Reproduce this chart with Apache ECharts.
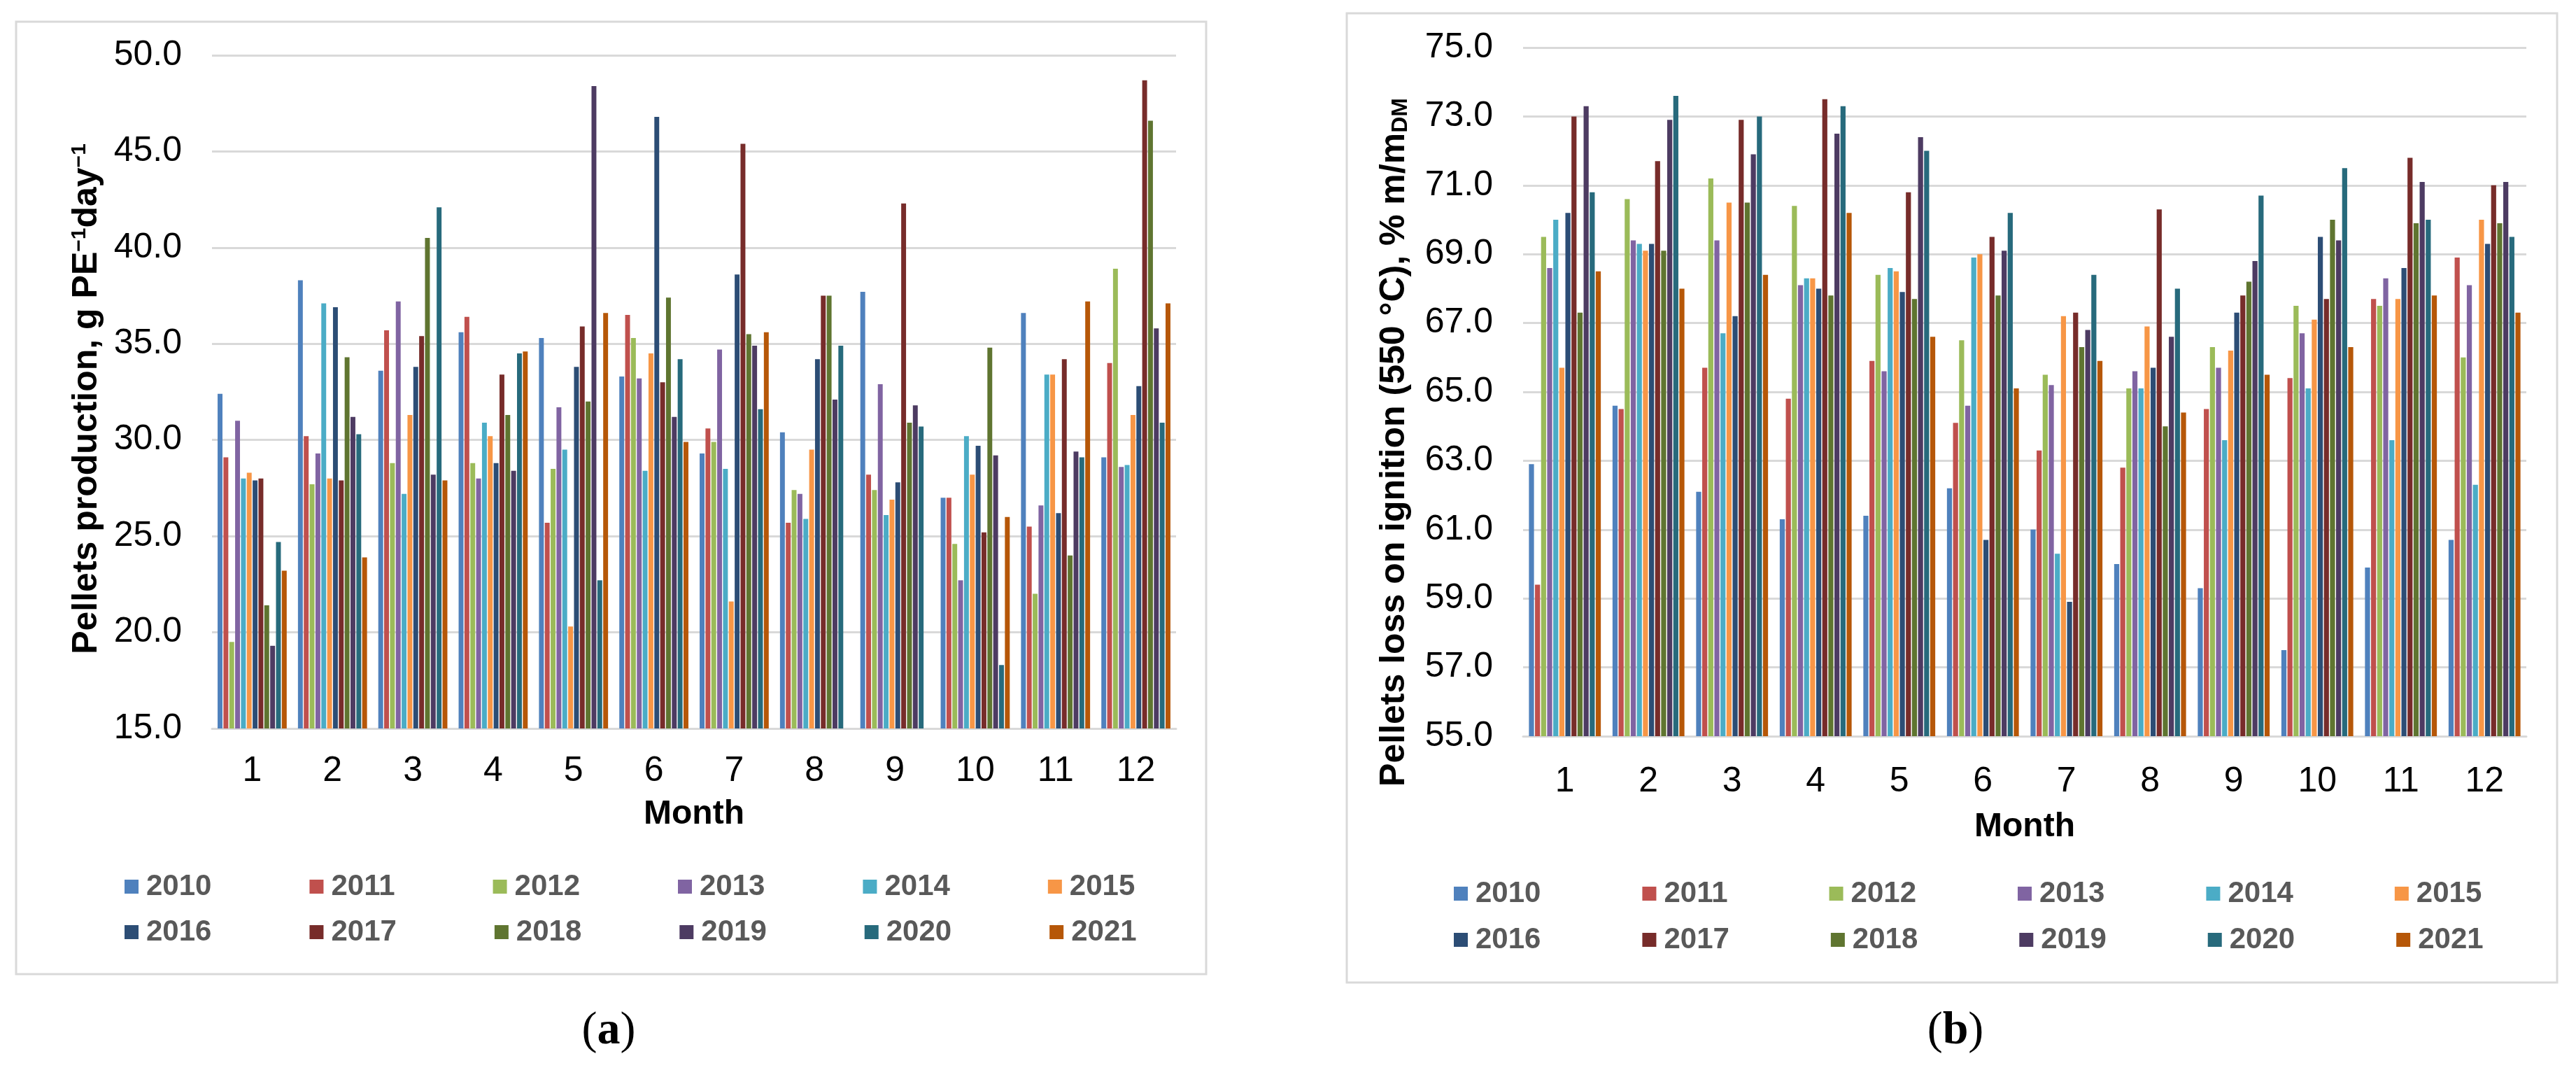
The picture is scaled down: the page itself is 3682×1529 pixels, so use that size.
<!DOCTYPE html>
<html>
<head>
<meta charset="utf-8">
<script src="https://cdn.jsdelivr.net/npm/echarts@6/dist/echarts.min.js"></script>
<style>
html,body{margin:0;padding:0;background:#fff;}
#chart{width:3682px;height:1529px;}
</style>
</head>
<body>
<div id="chart"></div>
<script>
// ---------- categories / labels ----------
const months = ['1','2','3','4','5','6','7','8','9','10','11','12'];
const years = ['2010','2011','2012','2013','2014','2015','2016','2017','2018','2019','2020','2021'];
const yearColors = ['#4F81BD','#C0504D','#9BBB59','#8064A2','#4BACC6','#F79646',
                    '#2C4D75','#772C2A','#5F7530','#4D3B62','#276A7C','#B65708'];

// ---------- (a) Pellets production, g PE-1 day-1 (by year, months 1..12) ----------
const prod2010 = [32.4, 38.3, 33.6, 35.6, 35.3, 33.3, 29.3, 30.4, 37.7, 27.0, 36.6, 29.1];
const prod2011 = [29.1, 30.2, 35.7, 36.4, 25.7, 36.5, 30.6, 25.7, 28.2, 27.0, 25.5, 34.0];
const prod2012 = [19.5, 27.7, 28.8, 28.8, 28.5, 35.3, 29.9, 27.4, 27.4, 24.6, 22.0, 38.9];
const prod2013 = [31.0, 29.3, 37.2, 28.0, 31.7, 33.2, 34.7, 27.2, 32.9, 22.7, 26.6, 28.6];
const prod2014 = [28.0, 37.1, 27.2, 30.9, 29.5, 28.4, 28.5, 25.9, 26.1, 30.2, 33.4, 28.7];
const prod2015 = [28.3, 28.0, 31.3, 30.2, 20.3, 34.5, 21.6, 29.5, 26.9, 28.2, 33.4, 31.3];
const prod2016 = [27.9, 36.9, 33.8, 28.8, 33.8, 46.8, 38.6, 34.2, 27.8, 29.7, 26.2, 32.8];
const prod2017 = [28.0, 27.9, 35.4, 33.4, 35.9, 33.0, 45.4, 37.5, 42.3, 25.2, 34.2, 48.7];
const prod2018 = [21.4, 34.3, 40.5, 31.3, 32.0, 37.4, 35.5, 37.5, 30.9, 34.8, 24.0, 46.6];
const prod2019 = [19.3, 31.2, 28.2, 28.4, 48.4, 31.2, 34.9, 32.1, 31.8, 29.2, 29.4, 35.8];
const prod2020 = [24.7, 30.3, 42.1, 34.5, 22.7, 34.2, 31.6, 34.9, 30.7, 18.3, 29.1, 30.9];
const prod2021 = [23.2, 23.9, 27.9, 34.6, 36.6, 29.9, 35.6, null, null, 26.0, 37.2, 37.1];

// ---------- (b) Pellets loss on ignition (550 °C), % m/m DM ----------
const loi2010 = [62.9, 64.6, 62.1, 61.3, 61.4, 62.2, 61.0, 60.0, 59.3, 57.5, 59.9, 60.7];
const loi2011 = [59.4, 64.5, 65.7, 64.8, 65.9, 64.1, 63.3, 62.8, 64.5, 65.4, 67.7, 68.9];
const loi2012 = [69.5, 70.6, 71.2, 70.4, 68.4, 66.5, 65.5, 65.1, 66.3, 67.5, 67.5, 66.0];
const loi2013 = [68.6, 69.4, 69.4, 68.1, 65.6, 64.6, 65.2, 65.6, 65.7, 66.7, 68.3, 68.1];
const loi2014 = [70.0, 69.3, 66.7, 68.3, 68.6, 68.9, 60.3, 65.1, 63.6, 65.1, 63.6, 62.3];
const loi2015 = [65.7, 69.1, 70.5, 68.3, 68.5, 69.0, 67.2, 66.9, 66.2, 67.1, 67.7, 70.0];
const loi2016 = [70.2, 69.3, 67.2, 68.0, 67.9, 60.7, 58.9, 65.7, 67.3, 69.5, 68.6, 69.3];
const loi2017 = [73.0, 71.7, 72.9, 73.5, 70.8, 69.5, 67.3, 70.3, 67.8, 67.7, 71.8, 71.0];
const loi2018 = [67.3, 69.1, 70.5, 67.8, 67.7, 67.8, 66.3, 64.0, 68.2, 70.0, 69.9, 69.9];
const loi2019 = [73.3, 72.9, 71.9, 72.5, 72.4, 69.1, 66.8, 66.6, 68.8, 69.4, 71.1, 71.1];
const loi2020 = [70.8, 73.6, 73.0, 73.3, 72.0, 70.2, 68.4, 68.0, 70.7, 71.5, 70.0, 69.5];
const loi2021 = [68.5, 68.0, 68.4, 70.2, 66.6, 65.1, 65.9, 64.4, 65.5, 66.3, 67.8, 67.3];

// ---------- axis ticks ----------
const prodAxis = {min: 15, max: 50, interval: 5};
const loiAxis  = {min: 55, max: 75, interval: 2};

const prodSeriesData = [prod2010, prod2011, prod2012, prod2013, prod2014, prod2015,
                        prod2016, prod2017, prod2018, prod2019, prod2020, prod2021];
const loiSeriesData  = [loi2010, loi2011, loi2012, loi2013, loi2014, loi2015,
                        loi2016, loi2017, loi2018, loi2019, loi2020, loi2021];

const FONT = "'Liberation Sans', Arial, sans-serif";
const GRID_COLOR = '#D9D9D9';

function xAxisFor(idx, gap, margin) {
  return {
    type: 'category', gridIndex: idx, data: months,
    axisLine: {lineStyle: {color: GRID_COLOR, width: 3}},
    axisTick: {length: 12, lineStyle: {color: GRID_COLOR, width: 3}},
    axisLabel: {fontSize: 50, color: '#000', margin: margin, fontFamily: FONT},
    name: 'Month', nameLocation: 'middle', nameGap: gap,
    nameTextStyle: {fontSize: 48, fontWeight: 'bold', color: '#000', fontFamily: FONT}
  };
}
function yAxisFor(idx, cfg) {
  return {
    type: 'value', gridIndex: idx, min: cfg.min, max: cfg.max, interval: cfg.interval,
    startValue: cfg.min,
    axisLine: {show: false}, axisTick: {show: false},
    axisLabel: {fontSize: 50, color: '#000', margin: 43, fontFamily: FONT,
                formatter: v => v.toFixed(1)},
    splitLine: {lineStyle: {color: GRID_COLOR, width: 3}}
  };
}

const series = [];
years.forEach((y, i) => {
  series.push({
    type: 'bar', name: y, xAxisIndex: 0, yAxisIndex: 0, data: prodSeriesData[i],
    itemStyle: {color: yearColors[i]}, barGap: '20%', barCategoryGap: '14%'
  });
});
years.forEach((y, i) => {
  series.push({
    type: 'bar', name: y, xAxisIndex: 1, yAxisIndex: 1, data: loiSeriesData[i],
    itemStyle: {color: yearColors[i]}, barGap: '20%', barCategoryGap: '14%'
  });
});

function legendRow(names, left, top, gap) {
  return {
    data: names, left: left, top: top, orient: 'horizontal', padding: 0,
    itemWidth: 20, itemHeight: 20, itemGap: gap, icon: 'rect', selectedMode: false,
    textStyle: {fontSize: 42, fontWeight: 'bold', color: '#595959', fontFamily: FONT,
                lineHeight: 42, padding: [0, 0, 0, 6]}
  };
}

const option = {
  animation: false,
  backgroundColor: '#fff',
  grid: [
    {left: 303, top: 79, width: 1378, height: 962},
    {left: 2177, top: 68, width: 1434, height: 984}
  ],
  xAxis: [xAxisFor(0, 99, 36), xAxisFor(1, 106, 40)],
  yAxis: [yAxisFor(0, prodAxis), yAxisFor(1, loiAxis)],
  legend: [
    legendRow(years.slice(0, 6), 178, 1246, 140),
    legendRow(years.slice(6), 178, 1311, 140),
    legendRow(years.slice(0, 6), 2078, 1256, 145),
    legendRow(years.slice(6), 2078, 1322, 145)
  ],
  graphic: [
    {type: 'rect', shape: {x: 23, y: 31, width: 1701, height: 1361},
     style: {fill: 'none', stroke: GRID_COLOR, lineWidth: 3}, silent: true},
    {type: 'rect', shape: {x: 1925, y: 19, width: 1730, height: 1385},
     style: {fill: 'none', stroke: GRID_COLOR, lineWidth: 3}, silent: true},
    {type: 'text', x: 124, y: 570, rotation: Math.PI / 2, silent: true,
     style: {text: 'Pellets production, g PE{sup|−1}day{sup|−1}',
             fontSize: 50, fontWeight: 'bold', fill: '#000', fontFamily: FONT,
             align: 'center', verticalAlign: 'middle',
             rich: {sup: {fontSize: 30, fontWeight: 'bold', fill: '#000', verticalAlign: 'top', fontFamily: FONT}}}},
    {type: 'text', x: 1993, y: 632, rotation: Math.PI / 2, silent: true,
     style: {text: 'Pellets loss on ignition (550 °C), % m/m{sub|DM}',
             fontSize: 50, fontWeight: 'bold', fill: '#000', fontFamily: FONT,
             align: 'center', verticalAlign: 'middle',
             rich: {sub: {fontSize: 32, fontWeight: 'bold', fill: '#000', verticalAlign: 'bottom', fontFamily: FONT}}}},
    {type: 'text', x: 870, y: 1474, silent: true,
     style: {text: '({b|a})', fontSize: 66, fill: '#000', fontFamily: "'Liberation Serif', 'Times New Roman', serif",
             align: 'center', verticalAlign: 'middle',
             rich: {b: {fontSize: 66, fontWeight: 'bold', fill: '#000', fontFamily: "'Liberation Serif', 'Times New Roman', serif"}}}},
    {type: 'text', x: 2795, y: 1474, silent: true,
     style: {text: '({b|b})', fontSize: 66, fill: '#000', fontFamily: "'Liberation Serif', 'Times New Roman', serif",
             align: 'center', verticalAlign: 'middle',
             rich: {b: {fontSize: 66, fontWeight: 'bold', fill: '#000', fontFamily: "'Liberation Serif', 'Times New Roman', serif"}}}}
  ],
  series: series
};

const chart = echarts.init(document.getElementById('chart'), null, {renderer: 'canvas'});
chart.setOption(option);
</script>
</body>
</html>
